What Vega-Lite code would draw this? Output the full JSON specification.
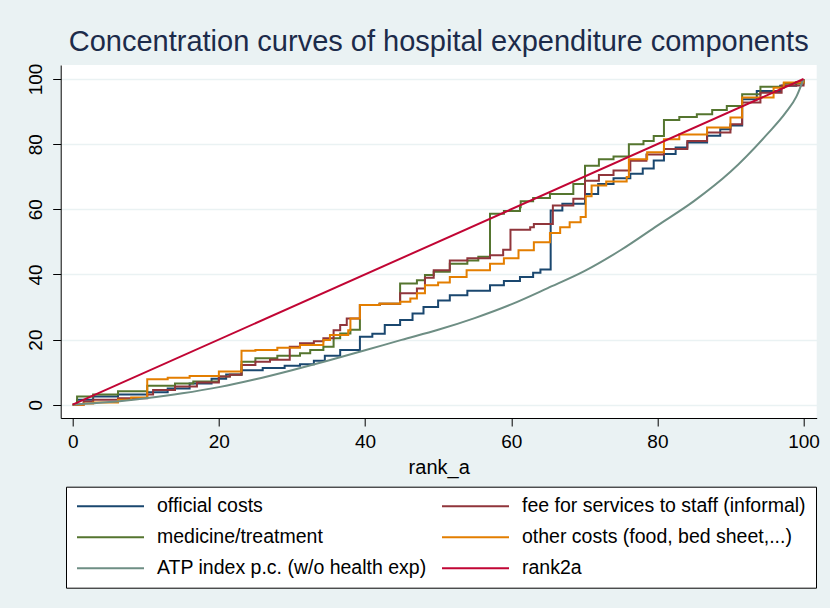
{
  "$schema": "https://vega.github.io/schema/vega-lite/v6.json",
  "autosize": {"type": "none"},
  "width": 756,
  "height": 353,
  "padding": {"left": 60.7, "top": 65, "right": 13.3, "bottom": 190},
  "background": "#EAF2F3",
  "config": {
    "view": {"fill": "white", "stroke": null},
    "font": "Liberation Sans",
    "axis": {"domainColor": "black", "tickColor": "black", "domainWidth": 1, "tickWidth": 1, "tickSize": 8, "labelColor": "black", "labelFontSize": 19, "labelFont": "Liberation Sans", "titleFont": "Liberation Sans", "titleFontWeight": "normal", "titleColor": "black", "titleFontSize": 20}
  },
  "title": {"text": "Concentration curves of hospital expenditure components", "fontSize": 29, "font": "Liberation Sans", "fontWeight": "normal", "color": "#1c2b4a", "anchor": "middle", "frame": "group", "offset": 6},
  "datasets": {
    "curves": [
      {"series": "official costs", "x": 0, "y": 0},
      {"series": "official costs", "x": 0.6, "y": 1.5},
      {"series": "official costs", "x": 2.8, "y": 2.5},
      {"series": "official costs", "x": 6.2, "y": 3.1},
      {"series": "official costs", "x": 10.2, "y": 3.8},
      {"series": "official costs", "x": 13, "y": 5},
      {"series": "official costs", "x": 16, "y": 6.5},
      {"series": "official costs", "x": 19, "y": 8},
      {"series": "official costs", "x": 21, "y": 9.3},
      {"series": "official costs", "x": 23.1, "y": 10.6},
      {"series": "official costs", "x": 26, "y": 11.3},
      {"series": "official costs", "x": 29, "y": 12},
      {"series": "official costs", "x": 31.1, "y": 12.4},
      {"series": "official costs", "x": 33, "y": 13.5},
      {"series": "official costs", "x": 34.5, "y": 15},
      {"series": "official costs", "x": 36.6, "y": 16.8},
      {"series": "official costs", "x": 39.3, "y": 20.9},
      {"series": "official costs", "x": 41, "y": 21.8},
      {"series": "official costs", "x": 42.7, "y": 24.5},
      {"series": "official costs", "x": 44.8, "y": 26},
      {"series": "official costs", "x": 46.5, "y": 28},
      {"series": "official costs", "x": 48, "y": 30},
      {"series": "official costs", "x": 50, "y": 32},
      {"series": "official costs", "x": 51.6, "y": 33.6},
      {"series": "official costs", "x": 54, "y": 35},
      {"series": "official costs", "x": 57.1, "y": 36.7},
      {"series": "official costs", "x": 59, "y": 38},
      {"series": "official costs", "x": 61.2, "y": 39.2},
      {"series": "official costs", "x": 63, "y": 40.5},
      {"series": "official costs", "x": 64, "y": 41.5},
      {"series": "official costs", "x": 65.4, "y": 59.6},
      {"series": "official costs", "x": 67, "y": 61.7},
      {"series": "official costs", "x": 70.1, "y": 64.7},
      {"series": "official costs", "x": 71.9, "y": 67.8},
      {"series": "official costs", "x": 74, "y": 69.5},
      {"series": "official costs", "x": 76.3, "y": 70.9},
      {"series": "official costs", "x": 78, "y": 72.5},
      {"series": "official costs", "x": 79.5, "y": 75},
      {"series": "official costs", "x": 80.9, "y": 77},
      {"series": "official costs", "x": 82.5, "y": 79},
      {"series": "official costs", "x": 84.1, "y": 80.5},
      {"series": "official costs", "x": 86.8, "y": 82.6},
      {"series": "official costs", "x": 88.6, "y": 84.6},
      {"series": "official costs", "x": 90, "y": 85.7},
      {"series": "official costs", "x": 91.6, "y": 93.8},
      {"series": "official costs", "x": 93.6, "y": 96.3},
      {"series": "official costs", "x": 96.8, "y": 97.9},
      {"series": "official costs", "x": 99, "y": 99},
      {"series": "official costs", "x": 100, "y": 100},

      {"series": "medicine/treatment", "x": 0, "y": 0},
      {"series": "medicine/treatment", "x": 0.6, "y": 2.5},
      {"series": "medicine/treatment", "x": 2.8, "y": 3.1},
      {"series": "medicine/treatment", "x": 6.2, "y": 4.1},
      {"series": "medicine/treatment", "x": 10.2, "y": 5.8},
      {"series": "medicine/treatment", "x": 14, "y": 6.5},
      {"series": "medicine/treatment", "x": 16.5, "y": 7.1},
      {"series": "medicine/treatment", "x": 20, "y": 8.7},
      {"series": "medicine/treatment", "x": 21.5, "y": 9.2},
      {"series": "medicine/treatment", "x": 23.1, "y": 13.2},
      {"series": "medicine/treatment", "x": 25, "y": 14.3},
      {"series": "medicine/treatment", "x": 28, "y": 15},
      {"series": "medicine/treatment", "x": 31.1, "y": 15.8},
      {"series": "medicine/treatment", "x": 32.5, "y": 16.8},
      {"series": "medicine/treatment", "x": 34.3, "y": 17.8},
      {"series": "medicine/treatment", "x": 35.7, "y": 20.4},
      {"series": "medicine/treatment", "x": 36.6, "y": 21.9},
      {"series": "medicine/treatment", "x": 38, "y": 23},
      {"series": "medicine/treatment", "x": 39.3, "y": 30.6},
      {"series": "medicine/treatment", "x": 42, "y": 31},
      {"series": "medicine/treatment", "x": 44.8, "y": 37.2},
      {"series": "medicine/treatment", "x": 47.1, "y": 38.2},
      {"series": "medicine/treatment", "x": 48.2, "y": 39.8},
      {"series": "medicine/treatment", "x": 49.4, "y": 40.8},
      {"series": "medicine/treatment", "x": 51.6, "y": 43.3},
      {"series": "medicine/treatment", "x": 54, "y": 44.3},
      {"series": "medicine/treatment", "x": 55.5, "y": 45.4},
      {"series": "medicine/treatment", "x": 57.1, "y": 58.6},
      {"series": "medicine/treatment", "x": 59, "y": 59.5},
      {"series": "medicine/treatment", "x": 61.2, "y": 60.6},
      {"series": "medicine/treatment", "x": 61.3, "y": 62.5},
      {"series": "medicine/treatment", "x": 63, "y": 63.5},
      {"series": "medicine/treatment", "x": 65.3, "y": 64.7},
      {"series": "medicine/treatment", "x": 68.5, "y": 67.8},
      {"series": "medicine/treatment", "x": 70.1, "y": 73.4},
      {"series": "medicine/treatment", "x": 72, "y": 75.4},
      {"series": "medicine/treatment", "x": 74, "y": 76.2},
      {"series": "medicine/treatment", "x": 76.1, "y": 80},
      {"series": "medicine/treatment", "x": 78.1, "y": 81},
      {"series": "medicine/treatment", "x": 79.5, "y": 82.5},
      {"series": "medicine/treatment", "x": 80.9, "y": 87.4},
      {"series": "medicine/treatment", "x": 83, "y": 88.3},
      {"series": "medicine/treatment", "x": 85.4, "y": 89.2},
      {"series": "medicine/treatment", "x": 87.5, "y": 90.5},
      {"series": "medicine/treatment", "x": 89.5, "y": 91.7},
      {"series": "medicine/treatment", "x": 91.6, "y": 95.3},
      {"series": "medicine/treatment", "x": 94.1, "y": 97.6},
      {"series": "medicine/treatment", "x": 97.3, "y": 98.6},
      {"series": "medicine/treatment", "x": 100, "y": 100},

      {"series": "fee for services to staff (informal)", "x": 0, "y": 0},
      {"series": "fee for services to staff (informal)", "x": 1.5, "y": 1},
      {"series": "fee for services to staff (informal)", "x": 2.8, "y": 1.5},
      {"series": "fee for services to staff (informal)", "x": 6.2, "y": 2},
      {"series": "fee for services to staff (informal)", "x": 10.2, "y": 3.1},
      {"series": "fee for services to staff (informal)", "x": 11, "y": 4.5},
      {"series": "fee for services to staff (informal)", "x": 14, "y": 5.6},
      {"series": "fee for services to staff (informal)", "x": 17, "y": 6.8},
      {"series": "fee for services to staff (informal)", "x": 20, "y": 8.7},
      {"series": "fee for services to staff (informal)", "x": 21.5, "y": 9.2},
      {"series": "fee for services to staff (informal)", "x": 23.1, "y": 12.2},
      {"series": "fee for services to staff (informal)", "x": 25, "y": 13.2},
      {"series": "fee for services to staff (informal)", "x": 27, "y": 13.8},
      {"series": "fee for services to staff (informal)", "x": 29.7, "y": 17.8},
      {"series": "fee for services to staff (informal)", "x": 31.1, "y": 18.9},
      {"series": "fee for services to staff (informal)", "x": 33, "y": 19.5},
      {"series": "fee for services to staff (informal)", "x": 34.3, "y": 20.4},
      {"series": "fee for services to staff (informal)", "x": 35.7, "y": 22.9},
      {"series": "fee for services to staff (informal)", "x": 36.6, "y": 24.5},
      {"series": "fee for services to staff (informal)", "x": 37.5, "y": 26.5},
      {"series": "fee for services to staff (informal)", "x": 39.3, "y": 30.6},
      {"series": "fee for services to staff (informal)", "x": 42, "y": 31},
      {"series": "fee for services to staff (informal)", "x": 44.8, "y": 34.2},
      {"series": "fee for services to staff (informal)", "x": 47.1, "y": 35.7},
      {"series": "fee for services to staff (informal)", "x": 48.2, "y": 39},
      {"series": "fee for services to staff (informal)", "x": 49.4, "y": 41.3},
      {"series": "fee for services to staff (informal)", "x": 51.6, "y": 44.3},
      {"series": "fee for services to staff (informal)", "x": 54, "y": 45},
      {"series": "fee for services to staff (informal)", "x": 57.1, "y": 45.9},
      {"series": "fee for services to staff (informal)", "x": 58.9, "y": 47.6},
      {"series": "fee for services to staff (informal)", "x": 59.9, "y": 53.7},
      {"series": "fee for services to staff (informal)", "x": 62.6, "y": 54.5},
      {"series": "fee for services to staff (informal)", "x": 63.1, "y": 55.5},
      {"series": "fee for services to staff (informal)", "x": 65.7, "y": 61.2},
      {"series": "fee for services to staff (informal)", "x": 68.5, "y": 63.2},
      {"series": "fee for services to staff (informal)", "x": 70.1, "y": 68.8},
      {"series": "fee for services to staff (informal)", "x": 72, "y": 70.5},
      {"series": "fee for services to staff (informal)", "x": 74, "y": 71.9},
      {"series": "fee for services to staff (informal)", "x": 76.3, "y": 74.9},
      {"series": "fee for services to staff (informal)", "x": 78.5, "y": 76.8},
      {"series": "fee for services to staff (informal)", "x": 80.9, "y": 78.5},
      {"series": "fee for services to staff (informal)", "x": 84.1, "y": 81},
      {"series": "fee for services to staff (informal)", "x": 86.8, "y": 83.6},
      {"series": "fee for services to staff (informal)", "x": 90, "y": 86.1},
      {"series": "fee for services to staff (informal)", "x": 91.6, "y": 92.8},
      {"series": "fee for services to staff (informal)", "x": 94.1, "y": 95.8},
      {"series": "fee for services to staff (informal)", "x": 97, "y": 98},
      {"series": "fee for services to staff (informal)", "x": 100, "y": 100},

      {"series": "other costs (food, bed sheet,...)", "x": 0, "y": 0},
      {"series": "other costs (food, bed sheet,...)", "x": 1.5, "y": 0.4},
      {"series": "other costs (food, bed sheet,...)", "x": 2.8, "y": 0.7},
      {"series": "other costs (food, bed sheet,...)", "x": 6.2, "y": 1.5},
      {"series": "other costs (food, bed sheet,...)", "x": 8, "y": 2.2},
      {"series": "other costs (food, bed sheet,...)", "x": 10.2, "y": 7.8},
      {"series": "other costs (food, bed sheet,...)", "x": 13, "y": 8.3},
      {"series": "other costs (food, bed sheet,...)", "x": 16, "y": 8.8},
      {"series": "other costs (food, bed sheet,...)", "x": 20, "y": 10.2},
      {"series": "other costs (food, bed sheet,...)", "x": 23.1, "y": 16.6},
      {"series": "other costs (food, bed sheet,...)", "x": 25, "y": 16.8},
      {"series": "other costs (food, bed sheet,...)", "x": 28, "y": 17.5},
      {"series": "other costs (food, bed sheet,...)", "x": 31.1, "y": 18.3},
      {"series": "other costs (food, bed sheet,...)", "x": 34.3, "y": 19.9},
      {"series": "other costs (food, bed sheet,...)", "x": 35.2, "y": 21.4},
      {"series": "other costs (food, bed sheet,...)", "x": 37.7, "y": 22.9},
      {"series": "other costs (food, bed sheet,...)", "x": 38, "y": 26.5},
      {"series": "other costs (food, bed sheet,...)", "x": 39.3, "y": 30.6},
      {"series": "other costs (food, bed sheet,...)", "x": 42, "y": 31},
      {"series": "other costs (food, bed sheet,...)", "x": 44.8, "y": 31.6},
      {"series": "other costs (food, bed sheet,...)", "x": 46.2, "y": 32.6},
      {"series": "other costs (food, bed sheet,...)", "x": 47.1, "y": 34.2},
      {"series": "other costs (food, bed sheet,...)", "x": 48.2, "y": 36.7},
      {"series": "other costs (food, bed sheet,...)", "x": 50, "y": 37.5},
      {"series": "other costs (food, bed sheet,...)", "x": 51.6, "y": 39.2},
      {"series": "other costs (food, bed sheet,...)", "x": 53.9, "y": 41.3},
      {"series": "other costs (food, bed sheet,...)", "x": 57.1, "y": 43.3},
      {"series": "other costs (food, bed sheet,...)", "x": 59, "y": 45},
      {"series": "other costs (food, bed sheet,...)", "x": 61, "y": 47.4},
      {"series": "other costs (food, bed sheet,...)", "x": 63.1, "y": 49.9},
      {"series": "other costs (food, bed sheet,...)", "x": 65.3, "y": 52.7},
      {"series": "other costs (food, bed sheet,...)", "x": 66.7, "y": 54.5},
      {"series": "other costs (food, bed sheet,...)", "x": 68, "y": 56},
      {"series": "other costs (food, bed sheet,...)", "x": 69.5, "y": 57.6},
      {"series": "other costs (food, bed sheet,...)", "x": 70.2, "y": 64},
      {"series": "other costs (food, bed sheet,...)", "x": 71, "y": 67.3},
      {"series": "other costs (food, bed sheet,...)", "x": 73, "y": 68.5},
      {"series": "other costs (food, bed sheet,...)", "x": 75.8, "y": 69.9},
      {"series": "other costs (food, bed sheet,...)", "x": 76.1, "y": 75.4},
      {"series": "other costs (food, bed sheet,...)", "x": 78.6, "y": 77.5},
      {"series": "other costs (food, bed sheet,...)", "x": 80.9, "y": 81.5},
      {"series": "other costs (food, bed sheet,...)", "x": 83, "y": 83},
      {"series": "other costs (food, bed sheet,...)", "x": 86.8, "y": 85.1},
      {"series": "other costs (food, bed sheet,...)", "x": 90, "y": 88.2},
      {"series": "other costs (food, bed sheet,...)", "x": 91.6, "y": 94.3},
      {"series": "other costs (food, bed sheet,...)", "x": 95.9, "y": 97.3},
      {"series": "other costs (food, bed sheet,...)", "x": 97.3, "y": 98.9},
      {"series": "other costs (food, bed sheet,...)", "x": 100, "y": 100}
    ],
    "smooth": [
      {"series": "ATP index p.c. (w/o health exp)", "x": 0, "y": 0},
      {"series": "ATP index p.c. (w/o health exp)", "x": 5, "y": 0.8},
      {"series": "ATP index p.c. (w/o health exp)", "x": 10, "y": 2.0},
      {"series": "ATP index p.c. (w/o health exp)", "x": 15, "y": 3.5},
      {"series": "ATP index p.c. (w/o health exp)", "x": 20, "y": 5.4},
      {"series": "ATP index p.c. (w/o health exp)", "x": 25, "y": 7.8},
      {"series": "ATP index p.c. (w/o health exp)", "x": 30, "y": 10.6},
      {"series": "ATP index p.c. (w/o health exp)", "x": 35, "y": 13.6},
      {"series": "ATP index p.c. (w/o health exp)", "x": 40, "y": 16.7},
      {"series": "ATP index p.c. (w/o health exp)", "x": 45, "y": 19.9},
      {"series": "ATP index p.c. (w/o health exp)", "x": 50, "y": 23},
      {"series": "ATP index p.c. (w/o health exp)", "x": 55, "y": 26.6},
      {"series": "ATP index p.c. (w/o health exp)", "x": 60, "y": 30.8},
      {"series": "ATP index p.c. (w/o health exp)", "x": 65, "y": 35.8},
      {"series": "ATP index p.c. (w/o health exp)", "x": 70, "y": 41},
      {"series": "ATP index p.c. (w/o health exp)", "x": 75, "y": 47.5},
      {"series": "ATP index p.c. (w/o health exp)", "x": 80, "y": 55},
      {"series": "ATP index p.c. (w/o health exp)", "x": 85, "y": 62.5},
      {"series": "ATP index p.c. (w/o health exp)", "x": 90, "y": 71.5},
      {"series": "ATP index p.c. (w/o health exp)", "x": 95, "y": 83},
      {"series": "ATP index p.c. (w/o health exp)", "x": 97.5, "y": 89.5},
      {"series": "ATP index p.c. (w/o health exp)", "x": 99, "y": 94.5},
      {"series": "ATP index p.c. (w/o health exp)", "x": 100, "y": 100},
      {"series": "rank2a", "x": 0, "y": 0},
      {"series": "rank2a", "x": 100, "y": 100}
    ]
  },
  "encoding": {
    "x": {"field": "x", "type": "quantitative", "scale": {"domain": [-1.64, 101.8], "nice": false, "zero": false}, "axis": {"values": [0, 20, 40, 60, 80, 100], "title": "rank_a", "grid": false, "labelPadding": 6, "titlePadding": 6}},
    "y": {"field": "y", "type": "quantitative", "scale": {"domain": [-4.08, 104.3], "nice": false, "zero": false}, "axis": {"values": [0, 20, 40, 60, 80, 100], "title": null, "grid": true, "gridColor": "#EAF2F3", "gridWidth": 1.5, "labelAngle": 270, "labelAlign": "center", "labelBaseline": "bottom", "labelPadding": 7}},
    "color": {"field": "series", "type": "nominal", "scale": {"domain": ["official costs", "fee for services to staff (informal)", "medicine/treatment", "other costs (food, bed sheet,...)", "ATP index p.c. (w/o health exp)", "rank2a"], "range": ["#1a476f", "#90353b", "#55752f", "#e37e00", "#6e8e84", "#c10534"]},
      "legend": {"title": null, "orient": "none", "legendX": 5.3, "legendY": 421.7, "columns": 2, "direction": "horizontal", "symbolType": "stroke", "symbolSize": 4489, "symbolStrokeWidth": 2, "clipHeight": 19, "labelFontSize": 19.5, "labelFont": "Liberation Sans", "labelColor": "black", "labelOffset": 12, "labelLimit": 400, "rowPadding": 11, "columnPadding": 14, "padding": 10, "strokeColor": "black", "fillColor": "white", "cornerRadius": 0}}
  },
  "layer": [
    {"data": {"name": "curves"}, "mark": {"type": "line", "interpolate": "step-after", "strokeWidth": 2, "clip": true}},
    {"data": {"name": "smooth"}, "mark": {"type": "line", "interpolate": "monotone", "strokeWidth": 2, "clip": true}}
  ]
}
